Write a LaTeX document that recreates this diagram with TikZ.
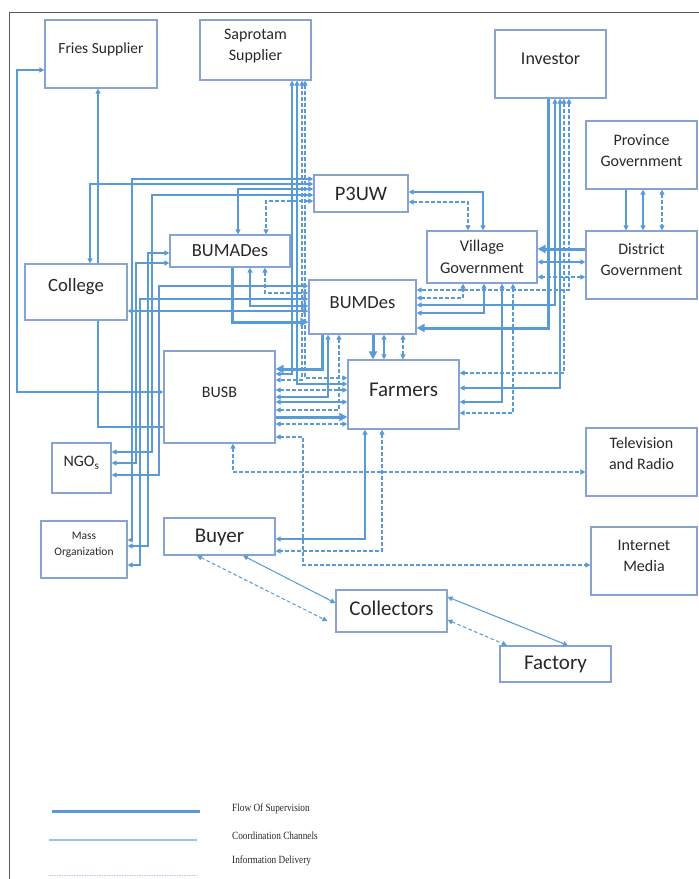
\documentclass[tikz,border=0pt]{standalone}
\usepackage{fontspec}
\setmainfont{Carlito}
\newfontfamily\legfont{Liberation Serif}
\usetikzlibrary{arrows.meta}
\definecolor{lc}{RGB}{91,155,213}
\definecolor{bc}{RGB}{135,163,212}
\definecolor{tc}{RGB}{40,40,40}
\definecolor{fc}{RGB}{90,90,90}
\definecolor{lcl}{RGB}{157,195,230}
\definecolor{lcd}{RGB}{180,205,235}
\begin{document}
\begin{tikzpicture}[x=1pt,y=-1pt,
  box/.style={draw=bc,line width=1.2pt,inner sep=0pt},
  lbl/.style={text=tc,align=center,inner sep=0pt,font=\fontsize{16}{21}\selectfont},
  big/.style={lbl,font=\fontsize{21}{24}\selectfont},
  co/.style={draw=lc,line width=1.05pt,>={Triangle[length=5pt,width=5pt]}},
  info/.style={co,dash pattern=on 3.5pt off 2.5pt},
  sup/.style={draw=lc,line width=3pt,-{Triangle[length=8pt,width=8pt]}},
  legt/.style={anchor=west,inner sep=0pt,text=tc,font=\legfont\fontsize{11}{13}\selectfont}]
\useasboundingbox (0,0) rectangle (699,879);
\draw[fc,line width=1pt] (9,879) -- (9,12) -- (699,12);

% boxes
\node[box,minimum width=112pt,minimum height=68pt] (fries) at (101,54) {};
\node[lbl,font=\fontsize{15.5}{20}\selectfont] (fries-t) at (101,49) {Fries Supplier};
\node[box,minimum width=111pt,minimum height=60pt] (saprotam) at (255.5,50) {};
\node[lbl] (saprotam-t) at (255.5,46.5) {Saprotam\\Supplier};
\node[box,minimum width=111pt,minimum height=68pt] (investor) at (550.5,64) {};
\node[lbl,font=\fontsize{18}{21}\selectfont] (investor-t) at (550.5,59) {Investor};
\node[box,minimum width=111pt,minimum height=68pt] (province) at (641.5,155) {};
\node[lbl] (province-t) at (641.5,150.5) {Province\\Government};
\node[box,minimum width=94pt,minimum height=37pt] (p3uw) at (361,193.5) {};
\node[lbl,font=\fontsize{20.5}{24}\selectfont] (p3uw-t) at (361,194) {P3UW};
\node[box,minimum width=120pt,minimum height=32pt] (bumades) at (230,251) {};
\node[lbl,font=\fontsize{18.5}{22}\selectfont] (bumades-t) at (230,251) {BUMADes};
\node[box,minimum width=110pt,minimum height=52pt] (village) at (482,257) {};
\node[lbl,font=\fontsize{16.4}{22}\selectfont] (village-t) at (482,257) {Village\\Government};
\node[box,minimum width=111pt,minimum height=68pt] (district) at (641.5,265) {};
\node[lbl] (district-t) at (641.5,259.5) {District\\Government};
\node[box,minimum width=102pt,minimum height=56pt] (college) at (76,292) {};
\node[lbl,font=\fontsize{18.7}{22}\selectfont] (college-t) at (76,287) {College};
\node[box,minimum width=107pt,minimum height=54pt] (bumdes) at (362.5,307) {};
\node[lbl,font=\fontsize{18.5}{22}\selectfont] (bumdes-t) at (362.5,303) {BUMDes};
\node[box,minimum width=111pt,minimum height=92pt] (busb) at (219.5,397) {};
\node[lbl] (busb-t) at (219.5,392) {BUSB};
\node[box,minimum width=111pt,minimum height=69pt] (farmers) at (403.5,394.5) {};
\node[big] (farmers-t) at (403.5,390) {Farmers};
\node[box,minimum width=111pt,minimum height=68pt] (tv) at (641.5,462) {};
\node[lbl] (tv-t) at (641.5,453.5) {Television\\and Radio};
\node[box,minimum width=59pt,minimum height=50pt] (ngo) at (81.5,468) {};
\node[lbl] (ngo-t) at (81.5,463) {NGO\textsubscript{s}};
\node[box,minimum width=86pt,minimum height=57pt] (mass) at (84,549.5) {};
\node[lbl,font=\fontsize{11.5}{16}\selectfont] (mass-t) at (84,545) {Mass\\Organization};
\node[box,minimum width=111pt,minimum height=37pt] (buyer) at (219.5,536.5) {};
\node[big] (buyer-t) at (219.5,537) {Buyer};
\node[box,minimum width=106pt,minimum height=68pt] (internet) at (644,561) {};
\node[lbl] (internet-t) at (644,555.5) {Internet\\Media};
\node[box,minimum width=111pt,minimum height=42pt] (collectors) at (391.5,611) {};
\node[big] (collectors-t) at (391.5,608) {Collectors};
\node[box,minimum width=111pt,minimum height=36pt] (factory) at (555.5,664) {};
\node[big] (factory-t) at (555.5,664) {Factory};

% left side
\draw[co,<->] (fries.west |- 0,70) -- (17,70) -- (17,392) -- (busb.west |- 0,392);
\draw[co,<-] (fries.south -| 98,0) -- (college.north -| 98,0);
\draw[co,<->] (p3uw.west |- 0,184) -- (90,184) -- (college.north -| 90,0);
\draw[co] (college.south -| 98,0) -- (98,427) -- (busb.west |- 0,427);
\draw[co,<->] (college.east |- 0,311) -- (bumdes.west |- 0,311);
\draw[co,<->] (p3uw.west |- 0,179) -- (132,179) -- (132,540) -- (mass.east |- 0,540);
\draw[co,<->] (p3uw.west |- 0,189) -- (238,189) -- (bumades.north -| 238,0);
\draw[co,<->] (p3uw.west |- 0,195) -- (152,195) -- (152,452) -- (ngo.east |- 0,452);
\draw[info,<->] (p3uw.west |- 0,201) -- (266,201) -- (bumades.north -| 266,0);
\draw[co,<->] (bumades.west |- 0,253) -- (148,253) -- (148,546) -- (mass.east |- 0,546);
\draw[co,<->] (bumades.west |- 0,263) -- (136,263) -- (136,463) -- (ngo.east |- 0,463);
\draw[co,<->] (bumdes.west |- 0,286) -- (159,286) -- (159,475) -- (ngo.east |- 0,475);
\draw[co,<->] (bumdes.west |- 0,299) -- (140,299) -- (140,565) -- (mass.east |- 0,565);
\draw[sup] (bumades.south -| 232,0) -- (232,322) -- (bumdes.west |- 0,322);
\draw[co,<->] (bumades.south -| 250,0) -- (250,306) -- (bumdes.west |- 0,306);
\draw[info,<->] (bumades.south -| 265,0) -- (265,293) -- (bumdes.west |- 0,293);

% saprotam
\draw[co,<->] (saprotam.south -| 292,0) -- (292,374) -- (busb.east |- 0,374);
\draw[co,<->] (saprotam.south -| 297,0) -- (297,384) -- (farmers.west |- 0,384);
\draw[info,<->] (saprotam.south -| 302,0) -- (302,380) -- (busb.east |- 0,380);
\draw[info,<->] (saprotam.south -| 305,0) -- (305,378) -- (farmers.west |- 0,378);

% bumdes bottom
\draw[sup] (bumdes.south -| 322,0) -- (322,369) -- (busb.east |- 0,369);
\draw[co,<->] (bumdes.south -| 328,0) -- (328,397) -- (busb.east |- 0,397);
\draw[info,<->] (bumdes.south -| 339,0) -- (339,410) -- (busb.east |- 0,410);
\draw[sup] (bumdes.south -| 373,0) -- (farmers.north -| 373,0);
\draw[co,<->] (bumdes.south -| 384,0) -- (farmers.north -| 384,0);
\draw[info,<->] (bumdes.south -| 403,0) -- (farmers.north -| 403,0);

% busb - farmers
\draw[info,<->] (busb.east |- 0,390) -- (farmers.west |- 0,390);
\draw[co,<->] (busb.east |- 0,402) -- (farmers.west |- 0,402);
\draw[sup] (busb.east |- 0,417) -- (farmers.west |- 0,417);
\draw[info,<->] (busb.east |- 0,424) -- (farmers.west |- 0,424);

% media
\draw[info,<->] (busb.east |- 0,437) -- (303,437) -- (303,565) -- (internet.west |- 0,565);
\draw[info,<->] (busb.south -| 233,0) -- (233,472) -- (tv.west |- 0,472);

% buyer, collectors, factory
\draw[co,<->] (farmers.south -| 365,0) -- (365,539) -- (buyer.east |- 0,539);
\draw[info,<->] (farmers.south -| 382,0) -- (382,551) -- (buyer.east |- 0,551);
\draw[co,<->] (buyer.south -| 243,0) -- (collectors.west |- 0,603);
\draw[info,<->] (buyer.south -| 197,0) -- ([xshift=-8pt]collectors.west |- 0,621);
\draw[co,<->] (collectors.east |- 0,597) -- (factory.north -| 568,0);
\draw[info,<->] (collectors.east |- 0,620) -- (factory.north -| 507,0);

% p3uw - village
\draw[co,<->] (p3uw.east |- 0,192) -- (483,192) -- (village.north -| 483,0);
\draw[info,<->] (p3uw.east |- 0,202) -- (468,202) -- (village.north -| 468,0);

% province - district
\draw[co,->] (province.south -| 626,0) -- (district.north -| 626,0);
\draw[co,<->] (province.south -| 643,0) -- (district.north -| 643,0);
\draw[info,<->] (province.south -| 662,0) -- (district.north -| 662,0);

% district - village
\draw[sup] (district.west |- 0,249) -- (village.east |- 0,249);
\draw[co,<->] (district.west |- 0,262) -- (village.east |- 0,262);
\draw[info,<->] (district.west |- 0,277) -- (village.east |- 0,277);

% village - bumdes / farmers
\draw[info,<->] (village.south -| 463,0) -- (463,298) -- (bumdes.east |- 0,298);
\draw[co,<->] (village.south -| 484,0) -- (484,313) -- (bumdes.east |- 0,313);
\draw[co,<->] (village.south -| 502,0) -- (502,402) -- (farmers.east |- 0,402);
\draw[info,<->] (village.south -| 513,0) -- (513,413) -- (farmers.east |- 0,413);

% investor
\draw[sup] (investor.south -| 548,0) -- (548,328) -- (bumdes.east |- 0,328);
\draw[co,<->] (investor.south -| 555,0) -- (555,305) -- (bumdes.east |- 0,305);
\draw[co,<->] (investor.south -| 560,0) -- (560,388) -- (farmers.east |- 0,388);
\draw[info,<->] (investor.south -| 564,0) -- (564,373) -- (farmers.east |- 0,373);
\draw[info,<->] (investor.south -| 569,0) -- (569,290) -- (bumdes.east |- 0,290);

% legend
\draw[lc,line width=3pt] (52,811) -- (200,811);
\draw[lcl,line width=1.2pt] (49,840) -- (197,840);
\draw[lcd,line width=0.8pt,dash pattern=on 1.5pt off 1pt] (49,875) -- (197,875);
\node[legt] (leg1) at (232,809) {\scalebox{0.84}[1]{Flow Of Supervision}};
\node[legt] (leg2) at (232,836) {\scalebox{0.84}[1]{Coordination Channels}};
\node[legt] (leg3) at (232,861) {\scalebox{0.84}[1]{Information Delivery}};
\end{tikzpicture}
\end{document}
